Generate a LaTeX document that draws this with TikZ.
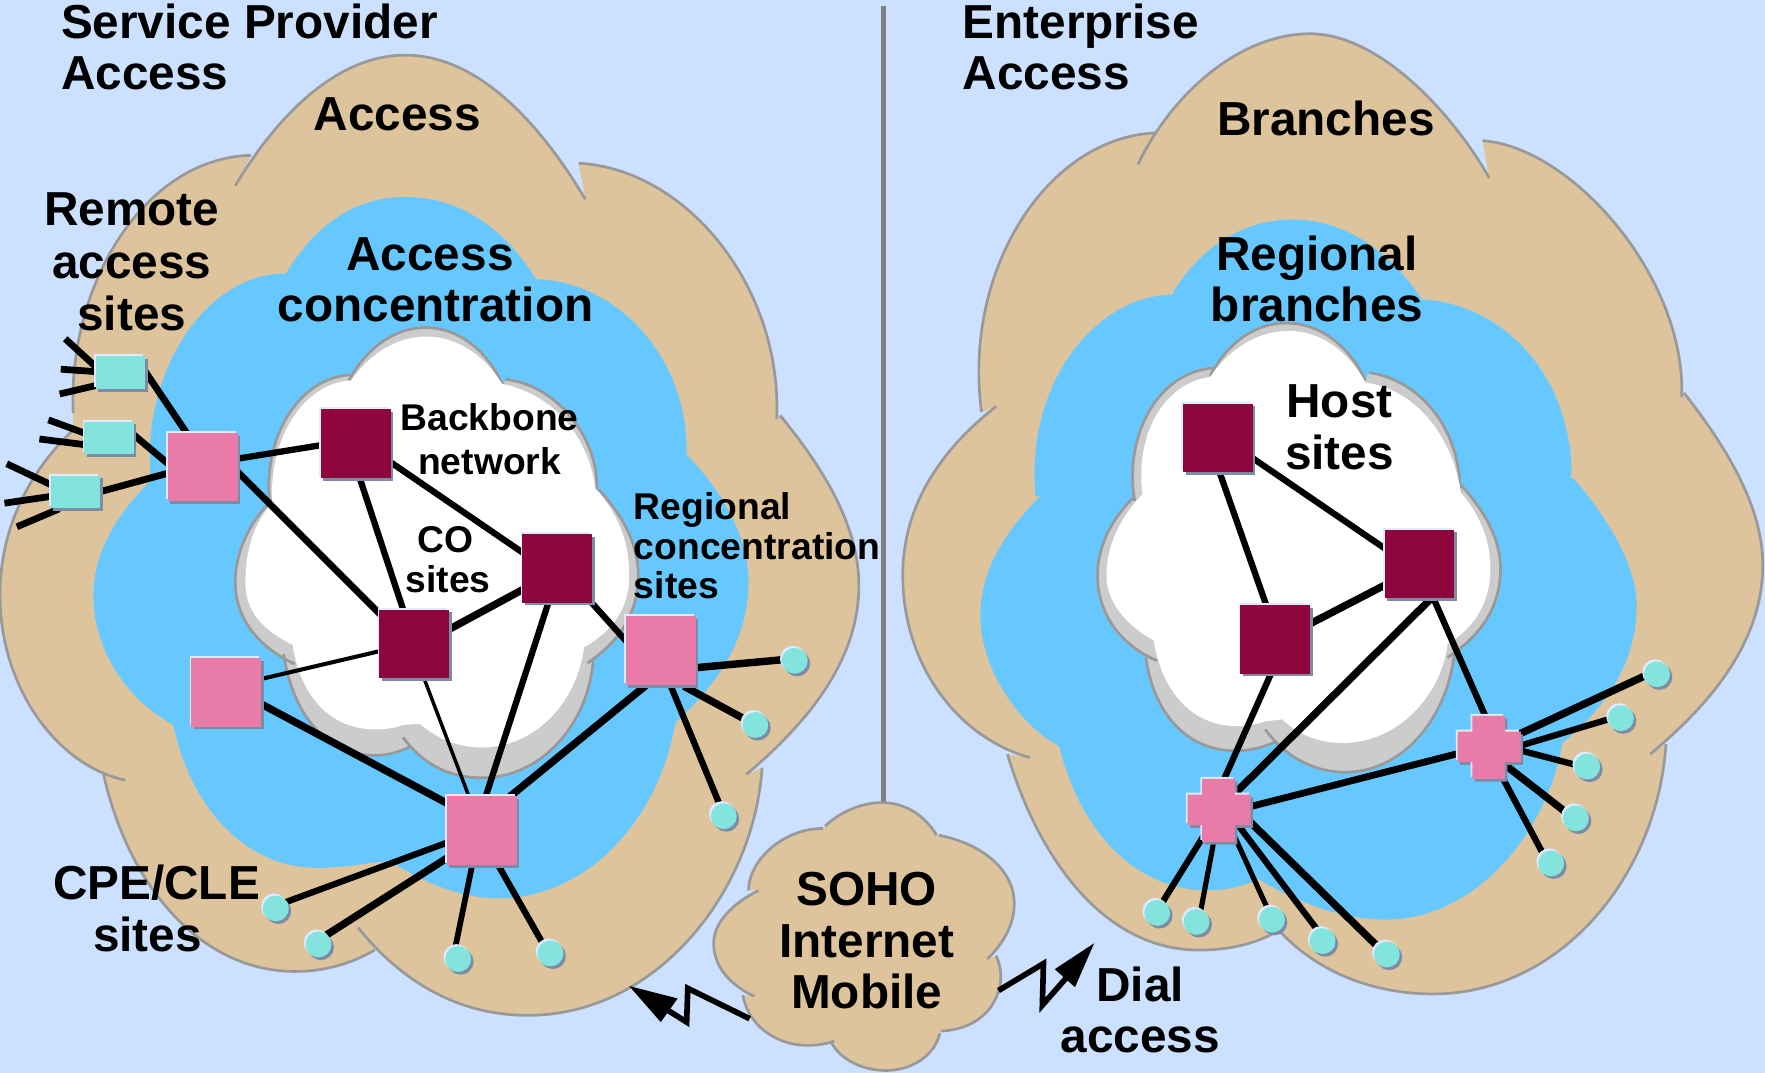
\documentclass[tikz,border=0pt]{standalone}
\usepackage{fontspec}
\setmainfont{Liberation Sans}
\usetikzlibrary{shadows}
\definecolor{bgc}{RGB}{204,224,255}
\definecolor{tanc}{RGB}{221,196,156}
\definecolor{bluec}{RGB}{102,200,255}
\definecolor{grayc}{RGB}{204,204,204}
\definecolor{linec}{RGB}{153,153,153}
\definecolor{pinkc}{RGB}{232,123,168}
\definecolor{maroonc}{RGB}{142,6,60}
\definecolor{tealc}{RGB}{130,228,220}
\definecolor{shc}{RGB}{125,140,165}
\definecolor{hlc}{RGB}{222,235,255}
\definecolor{divc}{RGB}{128,128,128}
\pgfdeclarelayer{clouds}
\pgfdeclarelayer{conn}
\pgfsetlayers{clouds,conn,main}
\def\defl#1#2#3{\expandafter\def\csname #1\endcsname{#2 #3}\expandafter\def\csname to#1\endcsname{-- #2 #3}}
% left outer
\defl{oLa}{(209,165)}{.. controls (243,108) and (296,49) .. (360,49) .. controls (425,49) and (480,110) .. (520,177)}
\defl{oLb}{(514,145)}{.. controls (610,150) and (695,255) .. (690,372)}
\defl{oLc}{(693,369)}{.. controls (735,420) and (763,470) .. (763,520) .. controls (763,585) and (720,640) .. (663,688)}
\defl{oLd}{(677,682)}{.. controls (670,790) and (585,902) .. (469,902) .. controls (405,902) and (355,870) .. (318,824)}
\defl{oLe}{(333,844)}{.. controls (310,857) and (287,863) .. (262,863) .. controls (180,863) and (115,790) .. (92,688)}
\defl{oLf}{(111,693)}{.. controls (50,680) and (0,610) .. (0,529) .. controls (0,470) and (25,420) .. (65,382)}
\defl{oLg}{(65,367)}{.. controls (60,250) and (130,140) .. (223,138)}
% right outer
\defl{oRa}{(1011,146)}{.. controls (1040,85) and (1100,30) .. (1164,30) .. controls (1225,30) and (1290,100) .. (1323,158)}
\defl{oRb}{(1317,125)}{.. controls (1395,130) and (1498,245) .. (1494,353)}
\defl{oRc}{(1496,349)}{.. controls (1540,405) and (1566,455) .. (1566,502) .. controls (1566,570) and (1520,625) .. (1466,670)}
\defl{oRd}{(1480,661)}{.. controls (1472,780) and (1385,883) .. (1273,883) .. controls (1215,883) and (1165,860) .. (1133,823)}
\defl{oRe}{(1130,830)}{.. controls (1110,840) and (1088,844) .. (1065,844) .. controls (985,844) and (925,770) .. (895,670)}
\defl{oRf}{(915,673)}{.. controls (850,655) and (802,590) .. (802,511) .. controls (802,450) and (835,400) .. (885,361)}
\defl{oRg}{(872,366)}{.. controls (855,240) and (930,122) .. (1027,118)}
% left blue
\defl{bLa}{(254,243)}{.. controls (280,200) and (315,175) .. (360,175) .. controls (410,175) and (450,205) .. (476,248)}
\defl{bLb}{(476,248)}{.. controls (550,250) and (612,320) .. (610,404)}
\defl{bLc}{(610,404)}{.. controls (645,440) and (665,480) .. (665,517) .. controls (665,570) and (635,610) .. (600,642)}
\defl{bLd}{(600,642)}{.. controls (585,730) and (520,798) .. (443,798) .. controls (410,798) and (380,785) .. (353,769)}
\defl{bLe}{(353,765)}{.. controls (330,765) and (310,771) .. (282,771) .. controls (220,771) and (170,720) .. (154,644)}
\defl{bLf}{(154,644)}{.. controls (110,620) and (83,575) .. (83,529) .. controls (83,490) and (105,455) .. (136,425)}
\defl{bLg}{(134,425)}{.. controls (125,335) and (180,243) .. (254,243)}
% right blue
\defl{bRa}{(1041,262)}{.. controls (1065,220) and (1105,195) .. (1148,195) .. controls (1200,195) and (1240,230) .. (1263,266)}
\defl{bRb}{(1263,266)}{.. controls (1340,270) and (1398,340) .. (1396,425)}
\defl{bRc}{(1398,425)}{.. controls (1432,465) and (1454,505) .. (1454,538) .. controls (1454,590) and (1425,630) .. (1388,660)}
\defl{bRd}{(1388,660)}{.. controls (1375,740) and (1310,817) .. (1231,817) .. controls (1190,817) and (1150,800) .. (1118,781)}
\defl{bRe}{(1118,781)}{.. controls (1103,788) and (1088,791) .. (1073,791) .. controls (1010,791) and (960,740) .. (941,663)}
\defl{bRf}{(941,663)}{.. controls (900,640) and (871,590) .. (871,547) .. controls (871,505) and (895,470) .. (924,441)}
\defl{bRg}{(920,441)}{.. controls (910,340) and (975,262) .. (1041,262)}
% left inner gray
\defl{gLa}{(310,338)}{.. controls (325,310) and (350,291) .. (378,291) .. controls (410,291) and (435,315) .. (447,343)}
\defl{gLb}{(449,337)}{.. controls (495,342) and (533,390) .. (530,437)}
\defl{gLc}{(532,435)}{.. controls (555,460) and (567,485) .. (567,511) .. controls (567,545) and (550,570) .. (522,589)}
\defl{gLd}{(527,587)}{.. controls (522,645) and (480,691) .. (428,691) .. controls (398,691) and (375,678) .. (358,655)}
\defl{gLe}{(365,663)}{.. controls (355,668) and (345,671) .. (333,671) .. controls (290,671) and (260,635) .. (252,581)}
\defl{gLf}{(262,590)}{.. controls (230,575) and (209,550) .. (209,517) .. controls (209,490) and (222,462) .. (245,441)}
\defl{gLg}{(240,450)}{.. controls (232,390) and (265,335) .. (312,333)}
% left white
\defl{wLa}{(312,338)}{.. controls (328,315) and (352,299) .. (378,299) .. controls (408,299) and (432,318) .. (446,341)}
\defl{wLb}{(446,341)}{.. controls (490,350) and (522,385) .. (529,434)}
\defl{wLc}{(529,434)}{.. controls (548,455) and (559,480) .. (559,511) .. controls (559,540) and (545,560) .. (519,575)}
\defl{wLd}{(519,575)}{.. controls (512,625) and (475,664) .. (428,664) .. controls (405,664) and (387,655) .. (373,643)}
\defl{wLe}{(358,644)}{.. controls (350,647) and (342,648) .. (333,648) .. controls (295,648) and (267,620) .. (260,573)}
\defl{wLf}{(260,573)}{.. controls (235,560) and (218,545) .. (218,517) .. controls (218,490) and (225,465) .. (242,447)}
\defl{wLg}{(242,447)}{.. controls (238,390) and (270,340) .. (312,338)}
% right inner gray
\defl{gRa}{(1075,334)}{.. controls (1090,305) and (1115,287) .. (1142,287) .. controls (1175,287) and (1200,310) .. (1213,338)}
\defl{gRb}{(1216,331)}{.. controls (1260,337) and (1299,380) .. (1297,441)}
\defl{gRc}{(1298,431)}{.. controls (1320,455) and (1333,480) .. (1333,505) .. controls (1333,540) and (1315,565) .. (1286,584)}
\defl{gRd}{(1292,581)}{.. controls (1285,640) and (1245,686) .. (1195,686) .. controls (1165,686) and (1140,670) .. (1124,648)}
\defl{gRe}{(1133,659)}{.. controls (1122,664) and (1110,667) .. (1098,667) .. controls (1055,667) and (1025,635) .. (1018,584)}
\defl{gRf}{(1028,587)}{.. controls (995,573) and (975,545) .. (975,511) .. controls (975,485) and (988,460) .. (1008,441)}
\defl{gRg}{(1008,445)}{.. controls (998,385) and (1030,330) .. (1078,327)}
% right white
\defl{wRa}{(1075,335)}{.. controls (1092,310) and (1117,294) .. (1145,294) .. controls (1175,294) and (1200,315) .. (1213,340)}
\defl{wRb}{(1213,340)}{.. controls (1255,345) and (1290,385) .. (1298,438)}
\defl{wRc}{(1298,438)}{.. controls (1315,458) and (1324,480) .. (1324,505) .. controls (1324,535) and (1310,558) .. (1286,572)}
\defl{wRd}{(1286,572)}{.. controls (1280,620) and (1240,660) .. (1193,660) .. controls (1170,660) and (1153,652) .. (1139,639)}
\defl{wRe}{(1123,641)}{.. controls (1115,644) and (1107,645) .. (1098,645) .. controls (1060,645) and (1032,615) .. (1025,569)}
\defl{wRf}{(1025,569)}{.. controls (1000,555) and (983,535) .. (983,511) .. controls (983,485) and (995,460) .. (1015,439)}
\defl{wRg}{(1015,439)}{.. controls (1008,385) and (1035,340) .. (1075,335)}
% soho
\defl{sa}{(733,734)}{.. controls (745,722) and (765,713) .. (783,713) .. controls (805,713) and (822,725) .. (832,742)}
\defl{sb}{(834,742)}{.. controls (875,750) and (902,775) .. (901,804) .. controls (901,820) and (892,838) .. (877,852)}
\defl{sc}{(885,849)}{.. controls (892,865) and (890,880) .. (880,895) .. controls (870,908) and (855,915) .. (836,916)}
\defl{sd}{(835,918)}{.. controls (830,938) and (810,951) .. (787,951) .. controls (765,951) and (745,940) .. (738,925)}
\defl{se}{(741,925)}{.. controls (700,938) and (665,915) .. (660,884)}
\defl{sf}{(670,885)}{.. controls (648,875) and (634,858) .. (634,838) .. controls (634,820) and (650,803) .. (674,791)}
\defl{sg}{(665,791)}{.. controls (665,765) and (695,736) .. (731,736)}
\tikzset{
  outl/.style={draw=linec,line width=2.4pt},
  boxbase/.style={inner sep=0pt,outer sep=0pt,draw=none,
    general shadow={fill=shc,shadow xshift=2.2pt,shadow yshift=-2.4pt},
    general shadow={fill=hlc,shadow xshift=-1.6pt,shadow yshift=1.8pt}},
  pinkbox/.style={boxbase,rectangle,fill=pinkc,minimum width=62pt,minimum height=61pt},
  maroonbox/.style={boxbase,rectangle,fill=maroonc,minimum width=62pt,minimum height=61pt},
  tealbox/.style={boxbase,rectangle,fill=tealc,minimum width=44pt,minimum height=29pt},
  dotnode/.style={boxbase,circle,fill=tealc,minimum size=23pt},
  plusanchor/.style={inner sep=0pt,outer sep=0pt,minimum size=56pt},
  connline/.style={draw=black,shorten <=-5pt,shorten >=-5pt},
  rayline/.style={draw=black,line width=6pt,shorten <=-5pt},
  boltline/.style={draw=black,line width=5pt,miter limit=10},
  lab/.style={font=\bfseries\fontsize{42.4}{#1}\selectfont,align=center,inner sep=0pt,anchor=base},
  labl/.style={font=\bfseries\fontsize{42.4}{#1}\selectfont,align=left,inner sep=0pt,anchor=base west},
  smalllab/.style={font=\bfseries\fontsize{33.1}{#1}\selectfont,align=center,inner sep=0pt,anchor=base},
  smalllabl/.style={font=\bfseries\fontsize{33.1}{#1}\selectfont,align=left,inner sep=0pt,anchor=base west}
}
\newcommand\cn[5]{\draw[connline,line width=#1pt+0.6pt] ([shift={(#3)}]#2.center) -- ([shift={(#5)}]#4.center);}
\newcommand\rayto[4]{\coordinate (#3) at (#4); \draw[rayline] ([shift={(#2)}]#1.center) -- (#3);}
\newcommand\plusat[3]{%
  \begin{scope}[shift={(#1,#2)}]
  \fill[#3] (-28,-14) -- (-15,-14) -- (-15,-28) -- (14,-28) -- (14,-14) -- (28,-14) -- (28,13) -- (14,13) -- (14,28) -- (-15,28) -- (-15,13) -- (-28,13) -- cycle;
  \end{scope}}
\begin{document}
\begin{tikzpicture}[x=1pt,y=-1pt]
\useasboundingbox (0,0) rectangle (1568,953);
\begin{pgfonlayer}{clouds}
\fill[bgc] (0,0) rectangle (1568,953);
\draw[divc,line width=4pt] (785,5) -- (785,720);
% left clouds
\fill[tanc] \oLa \tooLb \tooLc \tooLd \tooLe \tooLf \tooLg -- cycle;
\foreach \lb in {\oLa,\oLb,\oLc,\oLd,\oLe,\oLf,\oLg} \draw[outl] \lb;
\fill[bluec] \bLa \tobLb \tobLc \tobLd \tobLe \tobLf \tobLg -- cycle;
\fill[grayc] \gLa \togLb \togLc \togLd \togLe \togLf \togLg -- cycle;
\foreach \lb in {\gLa,\gLb,\gLc,\gLd,\gLe,\gLf,\gLg} \draw[outl] \lb;
\fill[white] \wLa \towLb \towLc \towLd \towLe \towLf \towLg -- cycle;
% right clouds
\fill[tanc] \oRa \tooRb \tooRc \tooRd \tooRe \tooRf \tooRg -- cycle;
\foreach \lb in {\oRa,\oRb,\oRc,\oRd,\oRe,\oRf,\oRg} \draw[outl] \lb;
\fill[bluec] \bRa \tobRb \tobRc \tobRd \tobRe \tobRf \tobRg -- cycle;
\fill[grayc] \gRa \togRb \togRc \togRd \togRe \togRf \togRg -- cycle;
\foreach \lb in {\gRa,\gRb,\gRc,\gRd,\gRe,\gRf,\gRg} \draw[outl] \lb;
\fill[white] \wRa \towRb \towRc \towRd \towRe \towRf \towRg -- cycle;
% soho
\fill[tanc] \sa \tosb \tosc \tosd \tose \tosf \tosg -- cycle;
\foreach \lb in {\sa,\sb,\sc,\sd,\se,\sf,\sg} \draw[outl] \lb;
\end{pgfonlayer}
% nodes, left
\node[tealbox] (R1) at (107,331) {};
\node[tealbox] (R2) at (97,389) {};
\node[tealbox] (R3) at (67,437) {};
\node[pinkbox] (A) at (180,415) {};
\node[maroonbox] (B) at (316,394) {};
\node[maroonbox] (C) at (495,505) {};
\node[maroonbox] (D) at (368,572) {};
\node[pinkbox] (E) at (201,615) {};
\node[pinkbox] (F) at (587,578) {};
\node[pinkbox] (G) at (428,738) {};
\node[dotnode] (d1) at (706,587) {};
\node[dotnode] (d2) at (671,644) {};
\node[dotnode] (d3) at (643,725) {};
\node[dotnode] (d4) at (245,807) {};
\node[dotnode] (d5) at (283,839) {};
\node[dotnode] (d6) at (407,852) {};
\node[dotnode] (d7) at (489,847) {};
% nodes, right
\node[maroonbox] (B2) at (1082,389) {};
\node[maroonbox] (C2) at (1261,501) {};
\node[maroonbox] (D2) at (1133,568) {};
\plusat{1085.2}{722.4}{shc}\plusat{1081.4}{718.2}{hlc}\plusat{1083}{720}{pinkc}
\plusat{1325.2}{666.4}{shc}\plusat{1321.4}{662.2}{hlc}\plusat{1323}{664}{pinkc}
\node[plusanchor] (P1) at (1083,720) {};
\node[plusanchor] (P2) at (1323,664) {};
\node[dotnode] (e1) at (1472,599) {};
\node[dotnode] (e2) at (1440,638) {};
\node[dotnode] (e3) at (1410,681) {};
\node[dotnode] (e4) at (1400,727) {};
\node[dotnode] (e5) at (1378,767) {};
\node[dotnode] (f1) at (1028,811) {};
\node[dotnode] (f2) at (1063,819) {};
\node[dotnode] (f3) at (1130,817) {};
\node[dotnode] (f4) at (1175,836) {};
\node[dotnode] (f5) at (1232,848) {};
% connectors
\begin{pgfonlayer}{conn}
\cn{5.5}{R1}{24,2}{A}{-16,-33}
\cn{5.5}{R2}{25,0}{A}{-33,-5}
\cn{5.5}{R3}{25,-1}{A}{-33,6}
\cn{5}{A}{34,-8}{B}{-34,2}
\cn{5.5}{A}{34,7}{D}{-33,-29}
\cn{5}{B}{4,32}{D}{-10,-31}
\cn{5}{B}{33,18}{C}{-32,-15}
\cn{6}{C}{-32,19.5}{D}{33,-14}
\cn{5}{C}{32,32}{F}{-33,-11}
\cn{5}{C}{-9,34}{G}{4,-32}
\cn{3}{D}{-33,7}{E}{34,-12.5}
\cn{2.5}{D}{10,34}{G}{-12,-32}
\cn{6}{E}{34,12}{G}{-32,-25}
\cn{6}{F}{-17,34}{G}{27,-32}
\cn{6}{F}{33,15}{d1}{-10,-1}
\cn{6}{F}{25,34}{d2}{-11,-6}
\cn{5}{F}{10,34}{d3}{-4,-11}
\cn{5}{G}{-32,11}{d4}{10,-6}
\cn{6}{G}{-32,25}{d5}{8,-9}
\cn{4.5}{G}{-9,33}{d6}{-2,-13}
\cn{5}{G}{16,33}{d7}{-8,-11}
\cn{5}{B2}{3,35}{D2}{-9,-33}
\cn{5}{B2}{33,19.5}{C2}{-34,-16}
\cn{6}{C2}{-34,20.5}{D2}{33,-15}
\cn{6}{C2}{7,34}{P1}{17,-18}
\cn{5}{C2}{14,34}{P2}{-4,-29}
\cn{5}{D2}{-5,33}{P1}{5,-29}
\cn{5.5}{P1}{30,-4}{P2}{-30,6}
\cn{6}{P2}{28,-12.5}{e1}{-12,2}
\cn{5}{P2}{29,-2}{e2}{-11,1}
\cn{5}{P2}{29,3}{e3}{-12,-2}
\cn{6}{P2}{16,17}{e4}{-11,-7}
\cn{5}{P2}{13,29}{e5}{-8,-10}
\cn{5}{P1}{-14,23}{f1}{5,-10}
\cn{4}{P1}{-5,29}{f2}{4,-11.5}
\cn{4}{P1}{16,28}{f3}{-5,-12}
\cn{5}{P1}{20,17}{f4}{-7,-13}
\cn{6}{P1}{30,12.5}{f5}{-9,-8}
\rayto{R1}{-25,-8}{ra}{58,301}
\rayto{R1}{-24,-1}{rb}{54,328}
\rayto{R1}{-24,12}{rc}{53,350}
\rayto{R2}{-24,-5}{rd}{43,373}
\rayto{R2}{-22,6}{re}{35,390}
\rayto{R3}{-23,-7}{rf}{6,412}
\rayto{R3}{-22,4}{rg}{4,447}
\rayto{R3}{-19,17}{rh}{15,468}
\end{pgfonlayer}
% lightning bolts
\coordinate (bl0) at (666,905);
\coordinate (bl1) at (611,878);
\coordinate (bl2) at (610,908);
\coordinate (bl3) at (594,898);
\draw[boltline] (bl0) -- (bl1) -- (bl2) -- (bl3);
\fill[black] (559,876) -- (587,908) -- (602,887) -- cycle;
\coordinate (br0) at (887,880);
\coordinate (br1) at (927,856);
\coordinate (br2) at (926,893);
\coordinate (br3) at (947,869);
\draw[boltline] (br0) -- (br1) -- (br2) -- (br3);
\fill[black] (972,838) -- (955,877) -- (937,861) -- cycle;
% labels
\node[labl=45.5] (t1) at (54,79.6) {Service Provider\\Access};
\node[lab=46] (t2) at (353,116) {Access};
\node[lab=47] (t3) at (117,294) {Remote\\access\\sites};
\node[lab=45.5] (t4) at (387,286) {\hspace*{-10pt}Access\\concentration};
\node[smalllab=39] (t5) at (435,421.5) {Backbone\\network};
\node[smalllab=35] (t6) at (398,526) {\hspace*{-5pt}CO\\sites};
\node[smalllabl=35] (t7) at (563,531.6) {Regional\\concentration\\sites};
\node[lab=46] (t8) at (135,845) {\hspace*{8pt}CPE/CLE\\\hspace*{-8pt}sites};
\node[lab=45.7] (t9) at (770,896) {SOHO\\Internet\\Mobile};
\node[lab=45.5] (t10) at (1013,935) {Dial\\access};
\node[labl=45.5] (t11) at (855,79.6) {Enterprise\\Access};
\node[lab=46] (t12) at (1178,120) {Branches};
\node[lab=45.5] (t13) at (1170,286) {Regional\\branches};
\node[lab=46.5] (t14) at (1190,417) {Host\\sites};
\end{tikzpicture}
\end{document}
